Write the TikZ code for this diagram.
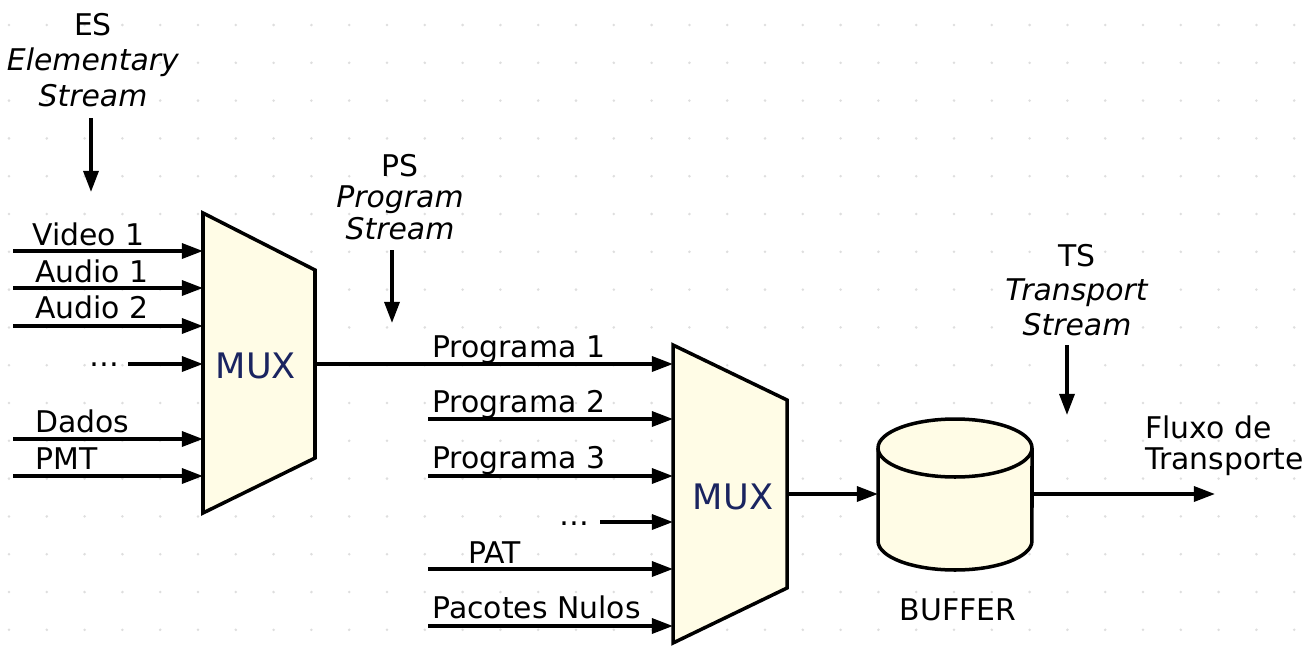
\documentclass[tikz,border=0pt]{standalone}
\usepackage{fontspec}
\setmainfont{DejaVu Sans}
\usetikzlibrary{arrows.meta}
\definecolor{muxfill}{RGB}{255,252,230}
\definecolor{muxblue}{RGB}{26,36,96}
\definecolor{griddot}{RGB}{222,222,222}

\begin{document}
\begin{tikzpicture}[x=0.02cm,y=-0.02cm,
  sig/.style={line width=2pt,-{Triangle[length=12pt,width=8.5pt]}},
  box/.style={line width=2pt,fill=muxfill,line join=miter},
  lbl/.style={inner sep=0pt,anchor=base west,font=\fontsize{17}{20}\selectfont},
  hdr/.style={inner sep=0pt,align=center},
  muxtxt/.style={inner sep=0pt,text=muxblue,font=\fontsize{20}{24}\selectfont}]
\fill[white] (0,0) rectangle (1315,646);
\useasboundingbox (0,0) rectangle (1315,646);
\foreach \i in {0,...,34}
	\foreach \j in {0,...,16}
		\fill[griddot] ({9+37.8*\i},{25+37.8*\j}) circle[radius=0.8pt];

% first multiplexer
\draw[box] (203,213) -- (315,270) -- (315,458) -- (203,513) -- cycle;
\node[muxtxt] (muxa) at (256,366) {MUX};
\foreach \n/\y in {vid/251,aud1/288,aud2/326,dots/364,dad/439,pmt/476}
	\coordinate (a-\n) at (203,\y);
\foreach \n/\y in {vid/251,aud1/288,aud2/326,dad/439,pmt/476}
	\coordinate (sa-\n) at (13,\y);
\coordinate (sa-dots) at (128,364);
\foreach \n in {vid,aud1,aud2,dots,dad,pmt}
	\draw[sig] (sa-\n) -- (a-\n);
\node[lbl] (lvid) at (32,245) {Video 1};
\node[lbl] (laud1) at (35,282) {Audio 1};
\node[lbl] (laud2) at (35,318) {Audio 2};
\node[lbl] (ldotsa) at (89,366) {…};
\node[lbl] (ldad) at (35,432) {Dados};
\node[lbl] (lpmt) at (35,469) {PMT};

% second multiplexer
\draw[box] (673,345) -- (787,400) -- (787,588) -- (673,643) -- cycle;
\node[muxtxt] (muxb) at (733,497) {MUX};
\coordinate (muxa-out) at (315,364);
\foreach \n/\y in {p1/364,p2/419,p3/476,dots/522,pat/569,nul/626}
	\coordinate (b-\n) at (673,\y);
\foreach \n/\y in {p2/419,p3/476,pat/569,nul/626}
	\coordinate (sb-\n) at (428,\y);
\coordinate (sb-dots) at (600,522);
\coordinate (sb-p1) at (muxa-out);
\foreach \n in {p1,p2,p3,dots,pat,nul}
	\draw[sig] (sb-\n) -- (b-\n);
\node[lbl] (lp1) at (432,357) {Programa 1};
\node[lbl] (lp2) at (432,412) {Programa 2};
\node[lbl] (lp3) at (432,468) {Programa 3};
\node[lbl] (ldotsb) at (559,525) {…};
\node[lbl] (lpat) at (468,563) {PAT};
\node[lbl] (lnul) at (432,618) {Pacotes Nulos};

% buffer
\draw[box] (878,448) -- (878,541) arc[start angle=180,end angle=360,x radius=1.54cm,y radius=0.58cm] -- (1032,448);
\draw[box] (955,448) ellipse[x radius=1.54cm,y radius=0.58cm];
\node[lbl,anchor=base] (lbuf) at (958,620) {BUFFER};
\coordinate (muxb-out) at (787,494);
\coordinate (buf-in) at (878,494);
\coordinate (buf-out) at (1032,494);
\coordinate (ts-end) at (1215,494);
\draw[sig] (muxb-out) -- (buf-in);
\draw[sig] (buf-out) -- (ts-end);
\node[lbl,anchor=west,align=left,font=\fontsize{17}{17.6}\selectfont] (lflux) at (1145,446) {Fluxo de\\Transporte};

% stream names
\node[hdr,font=\fontsize{17}{20.4}\selectfont] (es) at (93,60) {ES\\\textit{Elementary}\\\textit{Stream}};
\node[hdr,font=\fontsize{17}{17.9}\selectfont] (ps) at (400,197) {PS\\\textit{Program}\\\textit{Stream}};
\node[hdr,font=\fontsize{17}{19.6}\selectfont] (ts) at (1077,290) {TS\\\textit{Transport}\\\textit{Stream}};
\coordinate (es-a) at (91,118);
\coordinate (es-b) at (91,192);
\coordinate (ps-a) at (392,250);
\coordinate (ps-b) at (392,323);
\coordinate (ts-a) at (1067,345);
\coordinate (ts-b) at (1067,415);
\draw[sig] (es-a) -- (es-b);
\draw[sig] (ps-a) -- (ps-b);
\draw[sig] (ts-a) -- (ts-b);
\end{tikzpicture}
\end{document}
